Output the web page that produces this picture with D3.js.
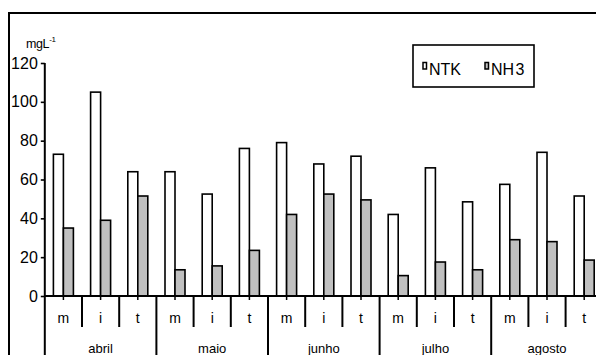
<!DOCTYPE html>
<html>
<head>
<meta charset="utf-8">
<script src="https://cdn.jsdelivr.net/npm/d3@7"></script>
<style>
  html, body { margin: 0; padding: 0; background: #fff; }
  svg { display: block; font-family: "Liberation Sans", Arial, sans-serif; }
</style>
</head>
<body>
<svg id="chart" width="596" height="355"></svg>
<script>
// Monthly NTK / NH3 concentrations (mg/L), sampled at m / i / t each month
const months = ["abril", "maio", "junho", "julho", "agosto"];
const periods = ["m", "i", "t"];
const ntk = [73, 105, 64, 64, 52.5, 76, 79, 68, 72, 42, 66, 48.5, 57.5, 74, 51.5];
const nh3 = [35, 39, 51.5, 13.5, 15.5, 23.5, 42, 52.5, 49.5, 10.5, 17.5, 13.5, 29, 28, 18.5];
const yTicks = [0, 20, 40, 60, 80, 100, 120];
const seriesNames = ["NTK", "NH3"];

const categories = [];
months.forEach(mo => periods.forEach(p => categories.push(mo + "|" + p)));

const svg = d3.select("#chart");
const x0 = 44.8, bandW = 37.2;
const x = d3.scaleBand().domain(categories).range([x0, x0 + bandW * categories.length]).padding(0);
const y = d3.scaleLinear().domain([0, 120]).range([296, 63]);
const barW = 10;
const fills = { NTK: "#ffffff", NH3: "#c0c0c0" };

// outer frame (top and left edges)
svg.append("path")
  .attr("d", "M9,355 V13 H596")
  .attr("fill", "none").attr("stroke", "#000").attr("stroke-width", 2);

// bars
const rows = categories.map((c, i) => ({ c, NTK: ntk[i], NH3: nh3[i] }));
const g = svg.append("g");
rows.forEach(r => {
  const cx = x(r.c) + x.bandwidth() / 2;
  seriesNames.forEach((s, k) => {
    g.append("rect")
      .attr("x", k === 0 ? cx - barW : cx)
      .attr("y", y(r[s]))
      .attr("width", barW)
      .attr("height", y(0) - y(r[s]))
      .attr("fill", fills[s])
      .attr("stroke", "#000").attr("stroke-width", 1.6);
  });
});

// y axis
const yAxis = svg.append("g")
  .attr("transform", `translate(${x0},0)`)
  .call(d3.axisLeft(y).tickValues(yTicks).tickSize(4).tickPadding(3));
yAxis.select(".domain").attr("stroke-width", 2).attr("d", `M0,${y(120)}V${y(0)}`);
yAxis.selectAll(".tick line").attr("stroke-width", 1.6);
yAxis.selectAll(".tick text")
  .attr("font-size", 16).attr("fill", "#000")
  .attr("font-family", "Liberation Sans, Arial, sans-serif");

// unit label
const unit = svg.append("text").attr("x", 26).attr("y", 48)
  .attr("font-size", 12.5).attr("letter-spacing", -0.4).attr("fill", "#000");
unit.append("tspan").text("mgL");
unit.append("tspan").attr("font-size", 8).attr("dy", -6).text("-1");

// category axis line
svg.append("line")
  .attr("x1", x0).attr("x2", 596).attr("y1", y(0)).attr("y2", y(0))
  .attr("stroke", "#000").attr("stroke-width", 2);

// small ticks at category centres
categories.forEach(c => {
  const cx = x(c) + x.bandwidth() / 2;
  svg.append("line").attr("x1", cx).attr("x2", cx)
    .attr("y1", y(0)).attr("y2", y(0) + 4)
    .attr("stroke", "#000").attr("stroke-width", 1.5);
});

// separators between periods and months
categories.forEach((c, i) => {
  if (i === 0) return;
  const xs = x(c);
  const isMonth = i % 3 === 0;
  svg.append("line").attr("x1", xs).attr("x2", xs)
    .attr("y1", y(0)).attr("y2", isMonth ? 355 : 327)
    .attr("stroke", "#000").attr("stroke-width", 2);
});
svg.append("line").attr("x1", x0).attr("x2", x0)
  .attr("y1", y(0)).attr("y2", 355)
  .attr("stroke", "#000").attr("stroke-width", 2);

// period labels
categories.forEach((c, i) => {
  svg.append("text")
    .attr("x", x(c) + x.bandwidth() / 2).attr("y", 323)
    .attr("text-anchor", "middle").attr("font-size", 14).attr("fill", "#000")
    .text(periods[i % 3]);
});

// month labels
months.forEach((m, j) => {
  const mid = categories[j * 3 + 1];
  svg.append("text")
    .attr("x", x(mid) + x.bandwidth() / 2).attr("y", 353)
    .attr("text-anchor", "middle").attr("font-size", 13).attr("fill", "#000")
    .text(m);
});

// legend
const lg = svg.append("g");
lg.append("rect").attr("x", 413).attr("y", 45).attr("width", 121).attr("height", 42)
  .attr("fill", "#fff").attr("stroke", "#000").attr("stroke-width", 1.6);
const legendItems = [
  { name: "NTK", sx: 423, tx: 429 },
  { name: "NH3", sx: 485, tx: 491 }
];
legendItems.forEach(it => {
  lg.append("rect").attr("x", it.sx).attr("y", 62.5).attr("width", 3.5).attr("height", 6.5)
    .attr("fill", fills[it.name]).attr("stroke", "#000").attr("stroke-width", 1.5);
  const t = lg.append("text").attr("x", it.tx).attr("y", 75)
    .attr("font-size", 16).attr("fill", "#000");
  if (it.name === "NH3") {
    t.append("tspan").text("NH");
    t.append("tspan").attr("dx", 1.5).text("3");
  } else {
    t.text(it.name);
  }
});
</script>
</body>
</html>
